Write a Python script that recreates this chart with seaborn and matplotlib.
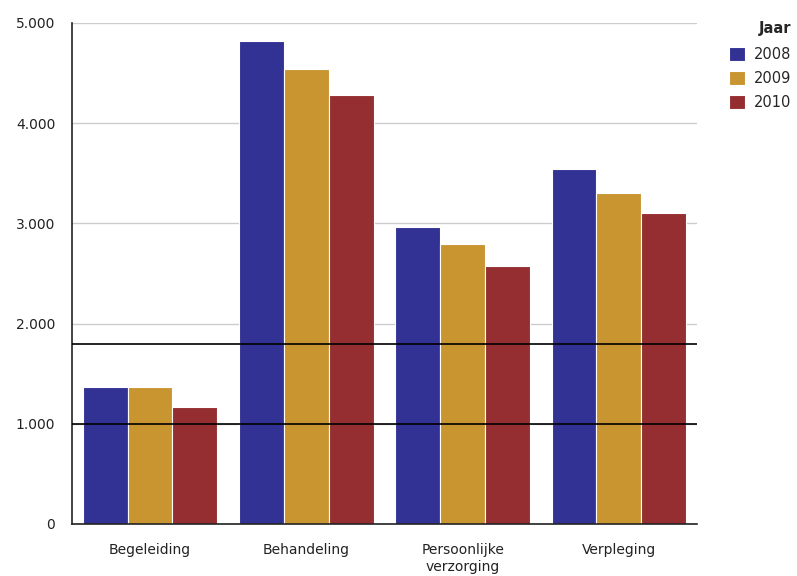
import matplotlib
matplotlib.use("Agg")
import matplotlib.pyplot as plt
import seaborn as sns
import pandas as pd
from matplotlib.ticker import FuncFormatter

categories = ["Begeleiding", "Behandeling", "Persoonlijke\nverzorging", "Verpleging"]
years = ["2008", "2009", "2010"]
values_2008 = [1370, 4820, 2960, 3540]
values_2009 = [1370, 4540, 2790, 3300]
values_2010 = [1170, 4280, 2570, 3100]
reference_lines = [1000, 1800]
colors = ["#323294", "#C99531", "#952E31"]

rows = []
for year, vals in zip(years, [values_2008, values_2009, values_2010]):
    for cat, v in zip(categories, vals):
        rows.append({"Categorie": cat, "Jaar": year, "Aantal": v})
df = pd.DataFrame(rows)

sns.set_style("white")
plt.rcParams["font.family"] = ["DejaVu Sans"]

fig = plt.figure(figsize=(7.97, 5.76), dpi=100)
ax = fig.add_axes([0.0903, 0.0903, 0.7842, 0.8698])

sns.barplot(data=df, x="Categorie", y="Aantal", hue="Jaar", order=categories,
            hue_order=years, palette=colors, width=0.86, edgecolor="white",
            linewidth=0.8, saturation=1, ax=ax, zorder=2)

ax.set_ylim(0, 5000)
ax.set_xlim(-0.5, 3.5)
ax.set_yticks(range(0, 5001, 1000))
ax.yaxis.set_major_formatter(FuncFormatter(lambda v, p: f"{int(v):,}".replace(",", ".")))
ax.grid(axis="y", color="#cccccc", linewidth=1, zorder=0)
ax.set_axisbelow(True)

for yv in reference_lines:
    ax.axhline(yv, color="black", linewidth=1.2, zorder=5)

for s in ["top", "right"]:
    ax.spines[s].set_visible(False)
for s in ["left", "bottom"]:
    ax.spines[s].set_color("#222222")
    ax.spines[s].set_linewidth(1.2)

ax.set_xlabel("")
ax.set_ylabel("")
ax.tick_params(axis="both", length=0, labelsize=10, colors="#222222")
ax.tick_params(axis="x", pad=14)
ax.tick_params(axis="y", pad=12)
for lbl in ax.get_xticklabels():
    lbl.set_linespacing(1.2)

leg = ax.legend(title="Jaar", loc="upper left", bbox_to_anchor=(1.03, 1.03),
                frameon=False, fontsize=10.5, title_fontproperties={"weight": "bold", "size": 10.5},
                handlelength=1.1, handleheight=1.1, handletextpad=0.6,
                labelspacing=0.6, alignment="right")
leg._legend_box.sep = 8

fig.savefig("out.png", dpi=100)
